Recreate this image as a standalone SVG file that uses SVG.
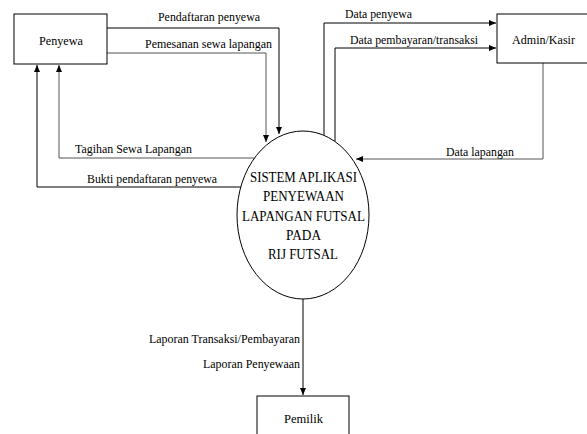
<svg xmlns="http://www.w3.org/2000/svg" width="587" height="434" viewBox="0 0 587 434">
<style>
.box{fill:#fff;stroke:#000;stroke-width:1}
.ln{fill:none;stroke:#000;stroke-width:1}
.g{stroke:#555}
text{font-family:"Liberation Serif","DejaVu Serif","Times New Roman",serif;fill:#000}
.lbl{font-size:12px}
.nd{font-size:13px;text-anchor:middle}
.pt{font-size:15px;text-anchor:middle}
</style>
<defs>
<marker id="ah" markerWidth="8" markerHeight="8" refX="7" refY="4" orient="auto" markerUnits="userSpaceOnUse">
<path d="M0,1 L7,4 L0,7 Z" fill="#000"/>
</marker>
</defs>
<g id="connectors">
<path class="ln" d="M107,28 H279 V134" marker-end="url(#ah)"/>
<path class="ln g" d="M107,53 H266 V142" marker-end="url(#ah)"/>
<path class="ln g" d="M254.5,158 H59 V65" marker-end="url(#ah)"/>
<path class="ln" d="M241,187 H37 V65" marker-end="url(#ah)"/>
<path class="ln" d="M324,135.5 V23 H496" marker-end="url(#ah)"/>
<path class="ln" d="M335,141.5 V48 H496" marker-end="url(#ah)"/>
<path class="ln g" d="M543,63 V159 H356" marker-end="url(#ah)"/>
<path class="ln" d="M303,299 V395" marker-end="url(#ah)"/>
<text class="lbl" x="158" y="21" textLength="102" lengthAdjust="spacingAndGlyphs">Pendaftaran penyewa</text>
<text class="lbl" x="145" y="48" textLength="127" lengthAdjust="spacingAndGlyphs">Pemesanan sewa lapangan</text>
<text class="lbl" x="75" y="153" textLength="117" lengthAdjust="spacingAndGlyphs">Tagihan Sewa Lapangan</text>
<text class="lbl" x="87" y="183" textLength="130" lengthAdjust="spacingAndGlyphs">Bukti pendaftaran penyewa</text>
<text class="lbl" x="345" y="18" textLength="67" lengthAdjust="spacingAndGlyphs">Data penyewa</text>
<text class="lbl" x="350" y="44" textLength="128" lengthAdjust="spacingAndGlyphs">Data pembayaran/transaksi</text>
<text class="lbl" x="446" y="156" textLength="68" lengthAdjust="spacingAndGlyphs">Data lapangan</text>
<text class="lbl" x="149" y="343" textLength="151" lengthAdjust="spacingAndGlyphs">Laporan Transaksi/Pembayaran</text>
<text class="lbl" x="203" y="368" textLength="97" lengthAdjust="spacingAndGlyphs">Laporan Penyewaan</text>
</g>
<g id="penyewa">
<rect class="box" x="14" y="14" width="93" height="50"/>
<text class="nd" x="61" y="45" textLength="44" lengthAdjust="spacingAndGlyphs">Penyewa</text>
</g>
<g id="admin">
<rect class="box" x="497" y="14" width="100" height="49"/>
<text class="nd" x="543.5" y="44" textLength="63" lengthAdjust="spacingAndGlyphs">Admin/Kasir</text>
</g>
<g id="sistem">
<ellipse class="box" cx="303" cy="215" rx="66" ry="84"/>
<text class="pt" x="303.5" y="182" textLength="107" lengthAdjust="spacingAndGlyphs">SISTEM APLIKASI</text>
<text class="pt" x="303.5" y="201" textLength="81" lengthAdjust="spacingAndGlyphs">PENYEWAAN</text>
<text class="pt" x="303.5" y="221" textLength="123" lengthAdjust="spacingAndGlyphs">LAPANGAN FUTSAL</text>
<text class="pt" x="303.5" y="240" textLength="35" lengthAdjust="spacingAndGlyphs">PADA</text>
<text class="pt" x="303" y="259" textLength="70" lengthAdjust="spacingAndGlyphs">RIJ FUTSAL</text>
</g>
<g id="pemilik">
<rect class="box" x="257" y="396" width="92" height="50"/>
<text class="nd" x="303.5" y="423" textLength="39" lengthAdjust="spacingAndGlyphs">Pemilik</text>
</g>
</svg>
